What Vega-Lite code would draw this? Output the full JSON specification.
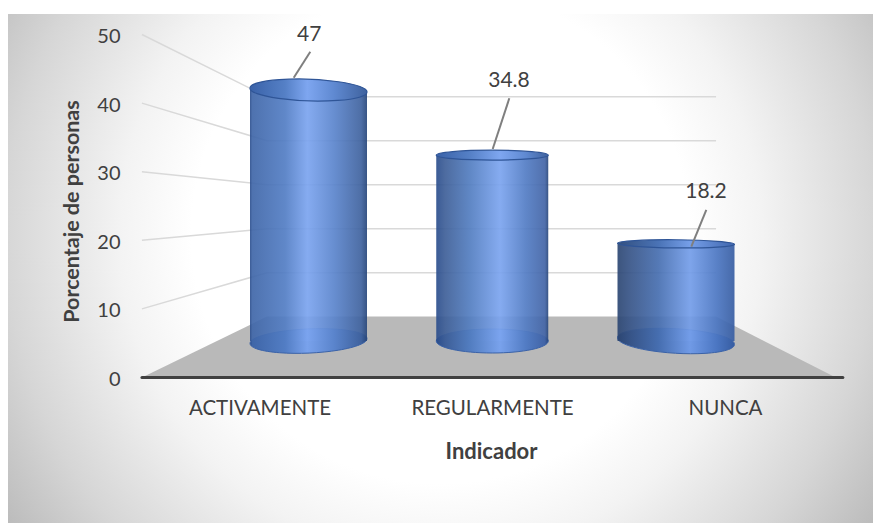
{
  "$schema": "https://vega.github.io/schema/vega-lite/v6.json",
  "width": 865,
  "height": 509,
  "autosize": "none",
  "padding": {"left": 8, "top": 14, "right": 0, "bottom": 0},
  "background": "white",
  "config": {"view": {"stroke": null}, "font": "Lato"},
  "datasets": {
    "indicadores": [
      {"indicador": "ACTIVAMENTE", "posicion": 1, "valor": 47, "guia_x": 0.9195, "guia_y": 43.70, "guia_x2": 1.0098, "guia_y2": 47.49, "etiqueta_x": 1.0044, "etiqueta_y": 49.93},
      {"indicador": "REGULARMENTE", "posicion": 2, "valor": 34.8, "guia_x": 2.0024, "guia_y": 33.31, "guia_x2": 2.0928, "guia_y2": 40.70, "etiqueta_x": 2.0912, "etiqueta_y": 43.22},
      {"indicador": "NUNCA", "posicion": 3, "valor": 18.2, "guia_x": 3.0833, "guia_y": 19.07, "guia_x2": 3.1649, "guia_y2": 24.42, "etiqueta_x": 3.1633, "etiqueta_y": 26.97}
    ],
    "fondo": [{"x": -0.6354, "x2": 4.0721, "y": 83.82, "y2": -42.27}],
    "suelo": [
      {"posicion": 0.0934, "altura": 0},
      {"posicion": 0.7741, "altura": 8.89},
      {"posicion": 3.2180, "altura": 8.89},
      {"posicion": 3.8700, "altura": 0}
    ],
    "eje": [{"desde": 0.0934, "hasta": 3.908, "altura": 0}],
    "rejilla": [
      {"nivel": 10, "posicion": 0.0934, "altura": 10},
      {"nivel": 10, "posicion": 0.7741, "altura": 15.28},
      {"nivel": 10, "posicion": 3.2180, "altura": 15.28},
      {"nivel": 20, "posicion": 0.0934, "altura": 20},
      {"nivel": 20, "posicion": 0.7741, "altura": 21.69},
      {"nivel": 20, "posicion": 3.2180, "altura": 21.69},
      {"nivel": 30, "posicion": 0.0934, "altura": 30},
      {"nivel": 30, "posicion": 0.7741, "altura": 28.10},
      {"nivel": 30, "posicion": 3.2180, "altura": 28.10},
      {"nivel": 40, "posicion": 0.0934, "altura": 40},
      {"nivel": 40, "posicion": 0.7741, "altura": 34.52},
      {"nivel": 40, "posicion": 3.2180, "altura": 34.52},
      {"nivel": 50, "posicion": 0.0934, "altura": 50},
      {"nivel": 50, "posicion": 0.7741, "altura": 40.93},
      {"nivel": 50, "posicion": 3.2180, "altura": 40.93}
    ]
  },
  "resolve": {"scale": {"y": "independent"}, "axis": {"y": "independent"}},
  "layer": [
    {
      "description": "Fondo, paredes y suelo en la escala del eje frontal",
      "layer": [
        {
          "data": {"name": "fondo"},
          "mark": {
            "type": "rect",
            "clip": true,
            "fill": {
              "gradient": "radial",
              "x1": 0.5, "y1": 0.5, "r1": 0,
              "x2": 0.5, "y2": 0.5, "r2": 0.6,
              "stops": [
                {"offset": 0, "color": "#ffffff"},
                {"offset": 0.48, "color": "#ffffff"},
                {"offset": 0.62, "color": "#f3f3f3"},
                {"offset": 0.84, "color": "#d6d6d6"},
                {"offset": 1, "color": "#bcbcbc"}
              ]
            }
          },
          "encoding": {
            "x": {"field": "x", "type": "quantitative", "scale": {"domain": [-0.6354, 4.0721], "nice": false, "zero": false, "padding": 0},
              "axis": {
                "values": [0.7333, 1.9986, 3.2667],
                "labelExpr": "datum.value < 1 ? 'ACTIVAMENTE' : datum.value < 3 ? 'REGULARMENTE' : 'NUNCA'",
                "offset": -145,
                "domain": false, "ticks": false, "grid": false,
                "labelPadding": 20, "labelFontSize": 20.5, "labelColor": "#404040", "labelFont": "Lato",
                "title": "Indicador", "titleFontSize": 22, "titleFontWeight": "bold", "titleColor": "#404040", "titleFont": "Lato",
                "titleX": 483, "titleY": 63, "zindex": 1
              }
            },
            "x2": {"field": "x2"},
            "y": {"field": "y", "type": "quantitative", "scale": {"domain": [-21.21, 52.99], "nice": false, "zero": false, "padding": 0},
              "axis": {
                "values": [0, 10, 20, 30, 40, 50],
                "offset": -117,
                "domain": false, "ticks": false, "grid": false,
                "labelPadding": 5, "labelFontSize": 20, "labelColor": "#404040", "labelFont": "Lato", "labelOffset": 2,
                "title": "Porcentaje de personas", "titleFontSize": 21.5, "titleFontWeight": "bold", "titleColor": "#404040", "titleFont": "Lato",
                "titleX": -42, "titleY": 197, "zindex": 1
              }
            },
            "y2": {"field": "y2"}
          }
        },
        {
          "data": {"name": "suelo"},
          "mark": {"type": "area", "fill": "#b9b9b9", "opacity": 1},
          "encoding": {
            "x": {"field": "posicion", "type": "quantitative", "scale": {"domain": [-0.6354, 4.0721], "nice": false, "zero": false, "padding": 0}},
            "y": {"field": "altura", "type": "quantitative", "scale": {"domain": [-21.21, 52.99], "nice": false, "zero": false, "padding": 0}},
            "y2": {"datum": 0}
          }
        },
        {
          "data": {"name": "rejilla"},
          "mark": {"type": "line", "stroke": "#d9d9d9", "strokeWidth": 1.5},
          "encoding": {
            "x": {"field": "posicion", "type": "quantitative", "scale": {"domain": [-0.6354, 4.0721], "nice": false, "zero": false, "padding": 0}},
            "y": {"field": "altura", "type": "quantitative", "scale": {"domain": [-21.21, 52.99], "nice": false, "zero": false, "padding": 0}},
            "detail": {"field": "nivel"}
          }
        },
        {
          "data": {"name": "eje"},
          "mark": {"type": "rule", "stroke": "#404040", "strokeWidth": 3, "strokeCap": "round"},
          "encoding": {
            "x": {"field": "desde", "type": "quantitative", "scale": {"domain": [-0.6354, 4.0721], "nice": false, "zero": false, "padding": 0}},
            "x2": {"field": "hasta"},
            "y": {"field": "altura", "type": "quantitative", "scale": {"domain": [-21.21, 52.99], "nice": false, "zero": false, "padding": 0}}
          }
        },
        {
          "mark": {"type": "rule", "stroke": "#cfcfcf", "strokeWidth": 2},
          "encoding": {"y": {"datum": 52.85, "scale": {"domain": [-21.21, 52.99], "nice": false, "zero": false, "padding": 0}}}
        }
      ]
    },
    {
      "description": "Cilindro de ACTIVAMENTE",
      "data": {"name": "indicadores"},
      "transform": [{"filter": "datum.indicador == 'ACTIVAMENTE'"}],
      "encoding": {"x": {"field": "posicion", "type": "quantitative", "scale": {"domain": [-0.6354, 4.0721], "nice": false, "zero": false, "padding": 0}}},
      "layer": [
        {
          "mark": {"type": "point", "filled": true, "size": 13689, "opacity": 1, "stroke": "#3a62a8", "strokeWidth": 1,
            "shape": "M-0.999,0.044A1,0.205,-2.5,1,0,0.999,-0.044A1,0.205,-2.5,1,0,-0.999,0.044Z",
            "fill": {"gradient": "linear", "x1": 0, "x2": 1, "y1": 0, "y2": 0, "stops": [
              {"offset": 0, "color": "#2a4d8c"}, {"offset": 0.02, "color": "#3f66a8"}, {"offset": 0.3, "color": "#527dc4"}, {"offset": 0.49, "color": "#79a2ec"}, {"offset": 0.72, "color": "#5a84cc"}, {"offset": 0.95, "color": "#3f629e"}, {"offset": 1, "color": "#27467a"}]}},
          "encoding": {"y": {"datum": 0, "type": "quantitative", "scale": {"domain": [-34.08, 61.24], "nice": false, "zero": false, "padding": 0}, "axis": null}}
        },
        {
          "mark": {"type": "bar", "orient": "vertical", "width": 117, "opacity": 0.92,
            "fill": {"gradient": "linear", "x1": 0, "x2": 1, "y1": 0, "y2": 0, "stops": [
              {"offset": 0, "color": "#2a4d8c"}, {"offset": 0.02, "color": "#3f66a8"}, {"offset": 0.3, "color": "#527dc4"}, {"offset": 0.49, "color": "#7ba4ef"}, {"offset": 0.72, "color": "#5a84cc"}, {"offset": 0.95, "color": "#3f629e"}, {"offset": 1, "color": "#27467a"}]}},
          "encoding": {"y": {"field": "valor", "type": "quantitative", "scale": {"domain": [-34.08, 61.24], "nice": false, "zero": false, "padding": 0}, "axis": null}, "y2": {"datum": 0}}
        },
        {
          "mark": {"type": "point", "filled": true, "size": 13689, "opacity": 1, "stroke": "#2f5597", "strokeWidth": 1.2,
            "shape": "M-0.999,-0.035A1,0.18,2,1,0,0.999,0.035A1,0.18,2,1,0,-0.999,-0.035Z",
            "fill": {"gradient": "linear", "x1": 0, "x2": 1, "y1": 0, "y2": 0, "stops": [
              {"offset": 0, "color": "#3a62a8"}, {"offset": 0.3, "color": "#5580c6"}, {"offset": 0.49, "color": "#7ea6f0"}, {"offset": 0.72, "color": "#5f89d1"}, {"offset": 1, "color": "#3f629e"}]}},
          "encoding": {"y": {"field": "valor", "type": "quantitative", "scale": {"domain": [-34.08, 61.24], "nice": false, "zero": false, "padding": 0}, "axis": null}}
        }
      ]
    },
    {
      "description": "Cilindro de REGULARMENTE",
      "data": {"name": "indicadores"},
      "transform": [{"filter": "datum.indicador == 'REGULARMENTE'"}],
      "encoding": {"x": {"field": "posicion", "type": "quantitative", "scale": {"domain": [-0.6354, 4.0721], "nice": false, "zero": false, "padding": 0}}},
      "layer": [
        {
          "mark": {"type": "point", "filled": true, "size": 13689, "opacity": 1, "stroke": "#3a62a8", "strokeWidth": 1,
            "shape": "M-0.957,0A0.957,0.205,0,1,0,0.957,0A0.957,0.205,0,1,0,-0.957,0Z",
            "fill": {"gradient": "linear", "x1": 0, "x2": 1, "y1": 0, "y2": 0, "stops": [
              {"offset": 0, "color": "#2a4d8c"}, {"offset": 0.08, "color": "#3e5f98"}, {"offset": 0.3, "color": "#527dc0"}, {"offset": 0.57, "color": "#79a2ec"}, {"offset": 0.8, "color": "#527cc4"}, {"offset": 0.97, "color": "#4264a6"}, {"offset": 1, "color": "#27467a"}]}},
          "encoding": {"y": {"datum": 0, "type": "quantitative", "scale": {"domain": [-34.08, 61.24], "nice": false, "zero": false, "padding": 0}, "axis": null}}
        },
        {
          "mark": {"type": "bar", "orient": "vertical", "width": 112, "opacity": 0.92,
            "fill": {"gradient": "linear", "x1": 0, "x2": 1, "y1": 0, "y2": 0, "stops": [
              {"offset": 0, "color": "#2a4d8c"}, {"offset": 0.08, "color": "#3e5f98"}, {"offset": 0.3, "color": "#527dc0"}, {"offset": 0.57, "color": "#7ba4ef"}, {"offset": 0.8, "color": "#527cc4"}, {"offset": 0.97, "color": "#4264a6"}, {"offset": 1, "color": "#27467a"}]}},
          "encoding": {"y": {"field": "valor", "type": "quantitative", "scale": {"domain": [-34.08, 61.24], "nice": false, "zero": false, "padding": 0}, "axis": null}, "y2": {"datum": 0}}
        },
        {
          "mark": {"type": "point", "filled": true, "size": 13689, "opacity": 1, "stroke": "#2f5597", "strokeWidth": 1.2,
            "shape": "M-0.957,0A0.957,0.085,0,1,0,0.957,0A0.957,0.085,0,1,0,-0.957,0Z",
            "fill": {"gradient": "linear", "x1": 0, "x2": 1, "y1": 0, "y2": 0, "stops": [
              {"offset": 0, "color": "#3a62a8"}, {"offset": 0.3, "color": "#5580c6"}, {"offset": 0.57, "color": "#7ea6f0"}, {"offset": 0.8, "color": "#5f89d1"}, {"offset": 1, "color": "#3f629e"}]}},
          "encoding": {"y": {"field": "valor", "type": "quantitative", "scale": {"domain": [-34.08, 61.24], "nice": false, "zero": false, "padding": 0}, "axis": null}}
        }
      ]
    },
    {
      "description": "Cilindro de NUNCA",
      "data": {"name": "indicadores"},
      "transform": [{"filter": "datum.indicador == 'NUNCA'"}],
      "encoding": {"x": {"field": "posicion", "type": "quantitative", "scale": {"domain": [-0.6354, 4.0721], "nice": false, "zero": false, "padding": 0}}},
      "layer": [
        {
          "mark": {"type": "point", "filled": true, "size": 13689, "opacity": 1, "stroke": "#3a62a8", "strokeWidth": 1,
            "shape": "M-0.998,-0.059A1,0.205,3.4,1,0,0.998,0.059A1,0.205,3.4,1,0,-0.998,-0.059Z",
            "fill": {"gradient": "linear", "x1": 0, "x2": 1, "y1": 0, "y2": 0, "stops": [
              {"offset": 0, "color": "#2c4672"}, {"offset": 0.1, "color": "#365386"}, {"offset": 0.35, "color": "#466eb0"}, {"offset": 0.62, "color": "#709ae6"}, {"offset": 0.85, "color": "#4b76c2"}, {"offset": 1, "color": "#375da2"}]}},
          "encoding": {"y": {"datum": 0, "type": "quantitative", "scale": {"domain": [-34.08, 61.24], "nice": false, "zero": false, "padding": 0}, "axis": null}}
        },
        {
          "mark": {"type": "bar", "orient": "vertical", "width": 117, "opacity": 0.92,
            "fill": {"gradient": "linear", "x1": 0, "x2": 1, "y1": 0, "y2": 0, "stops": [
              {"offset": 0, "color": "#2c4672"}, {"offset": 0.1, "color": "#365386"}, {"offset": 0.35, "color": "#466eb0"}, {"offset": 0.62, "color": "#739de9"}, {"offset": 0.85, "color": "#4b76c2"}, {"offset": 1, "color": "#375da2"}]}},
          "encoding": {"y": {"field": "valor", "type": "quantitative", "scale": {"domain": [-34.08, 61.24], "nice": false, "zero": false, "padding": 0}, "axis": null}, "y2": {"datum": 0}}
        },
        {
          "mark": {"type": "point", "filled": true, "size": 13689, "opacity": 1, "stroke": "#2f5597", "strokeWidth": 1.2,
            "shape": "M-1,-0.009A1,0.07,0.5,1,0,1,0.009A1,0.07,0.5,1,0,-1,-0.009Z",
            "fill": {"gradient": "linear", "x1": 0, "x2": 1, "y1": 0, "y2": 0, "stops": [
              {"offset": 0, "color": "#33507f"}, {"offset": 0.35, "color": "#4a73b6"}, {"offset": 0.62, "color": "#769fe9"}, {"offset": 1, "color": "#3f66ad"}]}},
          "encoding": {"y": {"field": "valor", "type": "quantitative", "scale": {"domain": [-34.08, 61.24], "nice": false, "zero": false, "padding": 0}, "axis": null}}
        }
      ]
    },
    {
      "description": "Etiquetas de valor con su línea guía",
      "data": {"name": "indicadores"},
      "layer": [
        {
          "mark": {"type": "rule", "stroke": "#7f7f7f", "strokeWidth": 2},
          "encoding": {
            "x": {"field": "guia_x", "type": "quantitative", "scale": {"domain": [-0.6354, 4.0721], "nice": false, "zero": false, "padding": 0}},
            "x2": {"field": "guia_x2"},
            "y": {"field": "guia_y", "type": "quantitative", "scale": {"domain": [-21.21, 52.99], "nice": false, "zero": false, "padding": 0}, "axis": null},
            "y2": {"field": "guia_y2"}
          }
        },
        {
          "mark": {"type": "text", "fontSize": 21, "color": "#404040", "font": "Lato", "align": "center", "baseline": "middle"},
          "encoding": {
            "x": {"field": "etiqueta_x", "type": "quantitative", "scale": {"domain": [-0.6354, 4.0721], "nice": false, "zero": false, "padding": 0}},
            "y": {"field": "etiqueta_y", "type": "quantitative", "scale": {"domain": [-21.21, 52.99], "nice": false, "zero": false, "padding": 0}, "axis": null},
            "text": {"field": "valor", "type": "quantitative"}
          }
        }
      ]
    }
  ]
}
